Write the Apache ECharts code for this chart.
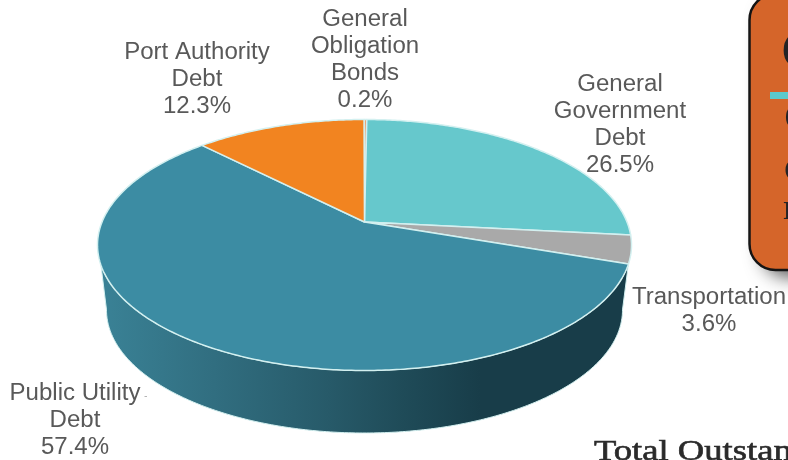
<!DOCTYPE html>
<html>
<head>
<meta charset="utf-8">
<style>html,body{margin:0;padding:0;background:#fff}#chart{width:788px;height:460px}</style>
<script src="https://cdn.jsdelivr.net/npm/echarts@6/dist/echarts.min.js"></script>
</head>
<body>
<div id="chart"></div>
<script>
// Debt composition, listed clockwise from the top of the pie
const categories = ['General\nObligation\nBonds', 'General\nGovernment\nDebt', 'Transportation', 'Public Utility\nDebt', 'Port Authority\nDebt'];
const shares = [0.2, 26.5, 3.6, 57.4, 12.3];
const sliceColors = ['#e9a574', '#66c8cc', '#a9a9a9', '#3c8ca3', '#f28420'];
const labelCentres = [[365, 60], [620, 125], [709, 311], [75, 421], [197, 80]];

// Tilted disc: outline of the top face and of the base, plus the perspective shift of the hub
const topFace = { cx: 364.5, cy: 245, rx: 267, ry: 125.5 };
const baseFace = { cx: 364.5, cy: 310, rx: 258, ry: 123 };
const hubShift = 0.183;
const firstAngle = -0.12;
const rimWindow = [109, 250.5];
const baseWindow = [100.5, 259.5];

const shiftSinh = hubShift / Math.sqrt(1 - hubShift * hubShift);
const shiftCosh = 1 / Math.sqrt(1 - hubShift * hubShift);

// Projects a bearing on the round disc (degrees clockwise from the top) onto a face outline
function project(face, deg) {
  const t = deg * Math.PI / 180;
  const X = Math.sin(t), Y = -Math.cos(t);
  const w = shiftCosh - Y * shiftSinh;
  return [face.cx + face.rx * X / w, face.cy + face.ry * (Y * shiftCosh - shiftSinh) / w];
}
function arc(face, from, to) {
  const pts = [];
  const n = Math.max(2, Math.ceil(Math.abs(to - from) * 1.5));
  for (let i = 0; i <= n; i++) pts.push(project(face, from + (to - from) * i / n));
  return pts;
}
function sliceRange(index) {
  let start = firstAngle;
  for (let i = 0; i < index; i++) start += shares[i] * 3.6;
  return [start, start + shares[index] * 3.6];
}
const hub = [topFace.cx, topFace.cy - hubShift * topFace.ry];

const rim = '#d3f0f0';
const wallFill = {
  type: 'linear', x: 100, y: 0, x2: 480, y2: 0, global: true,
  colorStops: [
    { offset: 0, color: '#3a8296' },
    { offset: 0.3, color: '#316e80' },
    { offset: 0.6, color: '#275a69' },
    { offset: 0.8, color: '#1f4b58' },
    { offset: 1, color: '#183d49' }
  ]
};

const sliceData = categories.map((name, i) => ({ name, value: shares[i] }));

const option = {
  backgroundColor: '#ffffff',
  animation: false,
  series: [
    {
      // Side wall of whichever slice faces the viewer
      type: 'custom',
      coordinateSystem: 'none',
      silent: true,
      z: 1,
      data: sliceData,
      renderItem(params) {
        const [a, b] = sliceRange(params.dataIndex);
        const from = Math.max(a, rimWindow[0]), to = Math.min(b, rimWindow[1]);
        if (to <= from) return null;
        const points = arc(topFace, from, to).concat(arc(baseFace, baseWindow[1], baseWindow[0]));
        return { type: 'polygon', shape: { points }, style: { fill: wallFill, stroke: rim, lineWidth: 1 } };
      }
    },
    {
      // Top face of the pie
      type: 'custom',
      coordinateSystem: 'none',
      silent: true,
      z: 2,
      data: sliceData,
      renderItem(params) {
        const [a, b] = sliceRange(params.dataIndex);
        const points = [hub].concat(arc(topFace, a, b));
        return { type: 'polygon', shape: { points }, style: { fill: sliceColors[params.dataIndex], stroke: rim, lineWidth: 1.5, lineJoin: 'round' } };
      }
    },
    {
      // Category name and share beside each slice
      type: 'custom',
      coordinateSystem: 'none',
      silent: true,
      z: 3,
      data: sliceData,
      renderItem(params) {
        const i = params.dataIndex;
        return {
          type: 'text',
          x: labelCentres[i][0],
          y: labelCentres[i][1],
          scaleX: 1.045,
          style: {
            text: categories[i] + '\n' + shares[i].toFixed(1) + '%',
            font: '23px "Liberation Sans", Arial, sans-serif',
            lineHeight: 27,
            fill: '#595959',
            align: 'center',
            verticalAlign: 'middle'
          }
        };
      }
    }
  ],
  graphic: [
    // Small leader tick beside the Public Utility label
    { type: 'line', z: 5, shape: { x1: 144.5, y1: 396.5, x2: 147, y2: 396.5 }, style: { stroke: '#b5b5b5', lineWidth: 1 } },
    {
      // Soft shadow under the call-out panel, kept separate so it stays behind the fill
      type: 'rect', z: 9,
      shape: { x: 752, y: -6, width: 120, height: 275, r: 26 },
      style: { fill: '#777', shadowBlur: 18, shadowOffsetX: 10, shadowOffsetY: 8, shadowColor: 'rgba(0,0,0,0.65)' }
    },
    {
      // Call-out panel running off the right-hand edge
      type: 'rect', z: 10,
      shape: { x: 749.5, y: -6, width: 120, height: 276, r: 26 },
      style: { fill: '#d5652a', stroke: '#141414', lineWidth: 2.5 }
    },
    { type: 'rect', z: 11, shape: { x: 770, y: 92, width: 30, height: 7 }, style: { fill: '#5ccacb' } },
    { type: 'text', z: 11, x: 781, y: 54, style: { text: 'C', font: 'bold 54px "Liberation Serif", serif', fill: '#232325', verticalAlign: 'middle' } },
    { type: 'text', z: 11, x: 784, y: 120, style: { text: 'C', font: 'bold 40px "Liberation Serif", serif', fill: '#232325', verticalAlign: 'middle' } },
    { type: 'text', z: 11, x: 784, y: 169, style: { text: 'c', font: 'bold 44px "Liberation Serif", serif', fill: '#232325', verticalAlign: 'middle' } },
    { type: 'text', z: 11, x: 783, y: 212, style: { text: 'I', font: 'bold 26px "Liberation Serif", serif', fill: '#232325', verticalAlign: 'middle' } },
    // Heading below the panel, cut by the page edge
    { type: 'text', z: 11, x: 594, y: 437.5, scaleX: 1.22, style: { text: 'Total Outstanding', font: '30px "Liberation Serif", serif', fill: '#2a2a2a', stroke: '#2a2a2a', lineWidth: 0.6, verticalAlign: 'top' } }
  ]
};

echarts.init(document.getElementById('chart'), null, { renderer: 'canvas' }).setOption(option);
</script>
</body>
</html>
